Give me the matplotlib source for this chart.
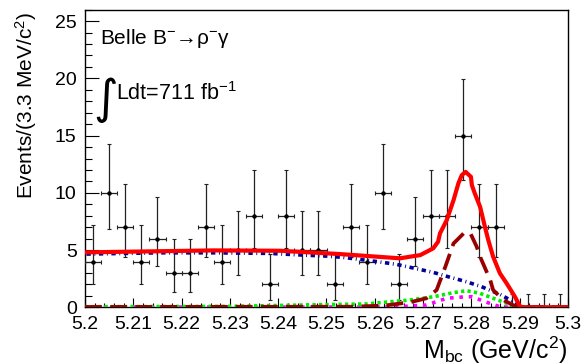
import numpy as np
import matplotlib
matplotlib.use("Agg")
import matplotlib.pyplot as plt
from matplotlib.ticker import MultipleLocator

plt.rcParams['font.family'] = ['Liberation Sans', 'DejaVu Sans']
plt.rcParams['mathtext.fontset'] = 'custom'
plt.rcParams['mathtext.rm'] = 'Liberation Sans'
plt.rcParams['mathtext.it'] = 'Liberation Sans:italic'
plt.rcParams['mathtext.bf'] = 'Liberation Sans:bold'

# Mbc histogram, 30 bins of 3.3 MeV between 5.2 and 5.3 GeV
BIN_LO, BIN_HI, N_BINS = 5.2, 5.3, 30
counts = [4, 10, 7, 4, 6, 3, 3, 7, 4, 5,
          8, 2, 8, 5, 5, 2, 7, 4, 10, 2,
          6, 8, 8, 15, 7, 7, 0, 0, 0, 0]

# fit components
total_x = [5.2000, 5.2265, 5.2404, 5.2528, 5.2652, 5.2694, 5.2721, 5.2731, 5.2735,
           5.2749, 5.2763, 5.2773, 5.2780, 5.2788, 5.2799, 5.2801, 5.2807, 5.2818,
           5.2828, 5.2835, 5.2845, 5.2859, 5.2873, 5.2890, 5.2901, 5.2910, 5.3000]
total_y = [4.80, 4.97, 4.94, 4.65, 4.28, 4.56, 5.15, 5.73, 6.46,
           7.62, 9.36, 10.82, 11.54, 11.83, 11.40, 10.67, 9.95, 8.78,
           7.03, 5.87, 4.42, 2.97, 2.09, 0.93, 0.05, 0.0, 0.0]

signal_x = [5.2000, 5.2550, 5.2620, 5.2674, 5.2707, 5.2728, 5.2746, 5.2763, 5.2770,
            5.2784, 5.2791, 5.2798, 5.2811, 5.2818, 5.2839, 5.2845, 5.2866, 5.2888,
            5.2905, 5.3000]
signal_y = [0.03, 0.05, 0.15, 0.45, 0.79, 1.51, 3.54, 5.58, 5.87,
            6.46, 6.55, 6.46, 5.29, 4.42, 2.38, 1.51, 0.64, 0.15,
            0.02, 0.0]

cont_x = [5.2003, 5.2155, 5.2265, 5.2383, 5.2452, 5.2497, 5.2535, 5.2607, 5.2645,
          5.2683, 5.2721, 5.2752, 5.2790, 5.2821, 5.2859, 5.2887, 5.2901, 5.2910, 5.3000]
cont_y = [4.65, 4.76, 4.76, 4.71, 4.56, 4.48, 4.36, 3.98, 3.75,
          3.40, 3.05, 2.67, 2.23, 1.80, 1.13, 0.49, 0.05, 0.0, 0.0]

bbar_x = [5.2000, 5.2300, 5.2451, 5.2583, 5.2673, 5.2721, 5.2762, 5.2790, 5.2818,
          5.2845, 5.2873, 5.2894, 5.3000]
bbar_y = [0.05, 0.08, 0.20, 0.29, 0.64, 0.92, 1.27, 1.45, 1.22,
          0.79, 0.35, 0.0, 0.0]

kstar_x = [5.2000, 5.2500, 5.2650, 5.2707, 5.2749, 5.2788, 5.2801, 5.2828, 5.2859, 5.2880, 5.3000]
kstar_y = [0.02, 0.02, 0.05, 0.20, 0.79, 0.92, 0.92, 0.49, 0.05, 0.0, 0.0]

counts = np.array(counts, dtype=float)
edges = np.linspace(BIN_LO, BIN_HI, N_BINS + 1)
centers = 0.5 * (edges[:-1] + edges[1:])
half_w = 0.5 * (edges[1] - edges[0])
# asymmetric Poisson errors (Gehrels approximation)
err_hi = np.where(counts > 0, 1 + np.sqrt(counts + 0.75), 1.15)
err_lo = np.where(counts > 0, np.sqrt(np.clip(counts - 0.25, 0, None)), 0.0)

fig = plt.figure(figsize=(5.82, 3.64), dpi=100)
ax = fig.add_axes([85/582, (364-307.3)/364, 483/582, 297.6/364])

ax.errorbar(centers, counts, xerr=half_w, yerr=[err_lo, err_hi], fmt='o', ms=2.2,
            color='black', ecolor='#222222', elinewidth=0.9, capsize=1.2, capthick=0.8, zorder=3)

ax.plot(kstar_x, kstar_y, color='#ff00ff', lw=2.6, linestyle=(0, (1.0, 1.6)), zorder=4)
ax.plot(bbar_x, bbar_y, color='#00ee00', lw=2.6, linestyle=(0, (0.9, 0.9)), zorder=5)
ax.plot(cont_x, cont_y, color='#000099', lw=2.6, linestyle=(0, (1.2, 1.0, 0.25, 1.0)), zorder=6)
ax.plot(signal_x, signal_y, color='#990000', lw=2.7, linestyle=(0, (4.5, 2.2)), zorder=7)
ax.plot(total_x, total_y, color='#ff0000', lw=3.0, solid_joinstyle='round', zorder=8)

ax.set_xlim(BIN_LO, BIN_HI)
ax.set_ylim(0, 26)
ax.xaxis.set_minor_locator(MultipleLocator(0.002))
ax.yaxis.set_major_locator(MultipleLocator(5))
ax.yaxis.set_minor_locator(MultipleLocator(1))
ax.set_xticks(np.arange(5.2, 5.3001, 0.01))
ax.set_xticklabels(['5.2', '5.21', '5.22', '5.23', '5.24', '5.25', '5.26',
                    '5.27', '5.28', '5.29', '5.3'])
ax.tick_params(axis='x', which='major', direction='in', length=6.5, width=0.8,
               labelsize=14, pad=6)
ax.tick_params(axis='x', which='minor', direction='in', length=3, width=0.8)
ax.tick_params(axis='y', which='major', direction='in', length=10, width=0.8,
               labelsize=14, pad=6)
ax.tick_params(axis='y', which='minor', direction='in', length=5, width=0.8)
for s in ax.spines.values():
    s.set_linewidth(1.0)

fig.text(26/582, 1 - 12/364, 'Events/(3.3 MeV/c$^{2}$)', rotation=90,
         ha='center', va='top', fontsize=15)
fig.text(568/582, 5/364, r'M$_{\rm bc}$ (GeV/c$^{2}$)', ha='right', va='baseline',
         fontsize=18)

fig.text(100/582, 1 - 44/364, 'Belle B$^{-}$\u2192\u03c1$^{-}$\u03b3',
         ha='left', va='baseline', fontsize=15)
fig.text(93/582, 1 - 113/364, '\u222b', family='DejaVu Sans', ha='left',
         va='baseline', fontsize=34)
fig.text(116/582, 1 - 100/364, 'Ldt=711 fb$^{-1}$', ha='left', va='baseline',
         fontsize=15.5)

fig.savefig('out.png', dpi=100)
